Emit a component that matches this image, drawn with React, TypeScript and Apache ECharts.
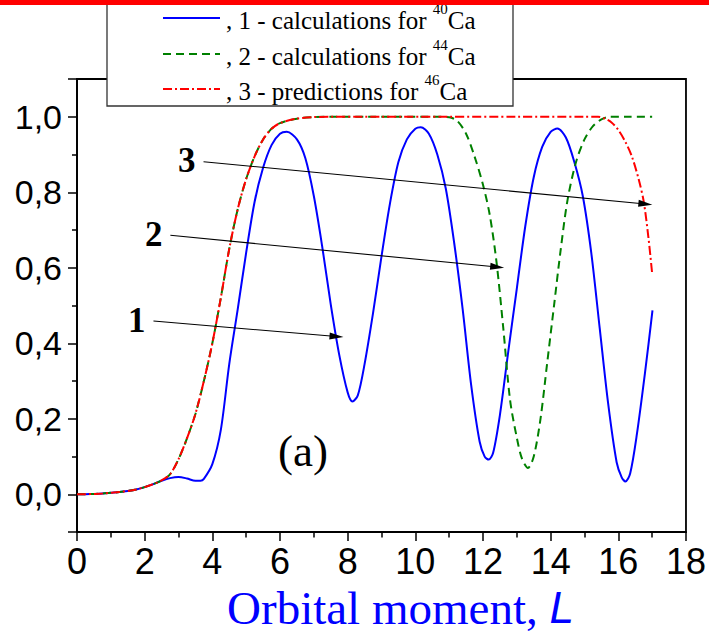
import React, { useEffect, useRef } from 'react';
import * as echarts from 'echarts';

// 1 - calculations for 40Ca (blue)
const blueL = [0, 0.25, 0.5, 0.75, 1.0, 1.25, 1.5, 1.75, 2.0, 2.25, 2.5, 2.75, 3.0, 3.25, 3.5, 3.65, 3.75, 4.0, 4.25, 4.5, 4.75, 5.0, 5.25, 5.5, 5.75, 6.0, 6.2, 6.5, 6.75, 7.0, 7.25, 7.5, 7.75, 8.0, 8.14, 8.3, 8.5, 8.75, 9.0, 9.25, 9.5, 9.75, 10.0, 10.16, 10.4, 10.65, 10.9, 11.15, 11.4, 11.65, 11.9, 12.05, 12.17, 12.3, 12.5, 12.75, 13.0, 13.25, 13.5, 13.75, 14.0, 14.2, 14.45, 14.7, 14.95, 15.2, 15.45, 15.7, 15.95, 16.1, 16.21, 16.35, 16.55, 16.8, 17.01];
const blueV = [0, 0.0003, 0.001, 0.002, 0.004, 0.006, 0.009, 0.013, 0.019, 0.027, 0.036, 0.043, 0.046, 0.042, 0.036, 0.036, 0.041, 0.08, 0.17, 0.345, 0.49, 0.64, 0.775, 0.865, 0.925, 0.955, 0.96, 0.94, 0.89, 0.79, 0.655, 0.503, 0.37, 0.27, 0.246, 0.262, 0.345, 0.48, 0.63, 0.77, 0.88, 0.94, 0.968, 0.972, 0.955, 0.9, 0.81, 0.665, 0.49, 0.29, 0.14, 0.1, 0.092, 0.11, 0.21, 0.38, 0.545, 0.71, 0.84, 0.92, 0.96, 0.969, 0.945, 0.88, 0.79, 0.64, 0.44, 0.24, 0.085, 0.045, 0.034, 0.055, 0.16, 0.33, 0.487];

// 2 - calculations for 44Ca (green)
const greenL = [0, 0.25, 0.5, 0.75, 1.0, 1.25, 1.5, 1.75, 2.0, 2.25, 2.5, 2.75, 3.0, 3.25, 3.5, 3.75, 4.0, 4.25, 4.5, 4.75, 5.0, 5.25, 5.5, 5.75, 6.0, 6.5, 7.0, 7.5, 8.5, 9.5, 10.5, 11.0, 11.25, 11.5, 11.75, 12.0, 12.2, 12.4, 12.6, 12.8, 13.0, 13.15, 13.33, 13.5, 13.7, 13.9, 14.1, 14.3, 14.5, 14.75, 15.0, 15.25, 15.5, 15.75, 16.25, 17.0];
const greenV = [0, 0.0003, 0.001, 0.002, 0.004, 0.006, 0.009, 0.013, 0.019, 0.027, 0.037, 0.053, 0.093, 0.148, 0.213, 0.3, 0.4, 0.52, 0.65, 0.755, 0.835, 0.895, 0.94, 0.968, 0.983, 0.995, 0.999, 1.0, 1.0, 1.0, 1.0, 0.999, 0.988, 0.955, 0.895, 0.82, 0.74, 0.615, 0.44, 0.25, 0.15, 0.095, 0.07, 0.1, 0.2, 0.35, 0.5, 0.65, 0.78, 0.88, 0.94, 0.975, 0.993, 1.0, 1.0, 1.0];

// 3 - predictions for 46Ca (red)
const redL = [0, 0.25, 0.5, 0.75, 1.0, 1.25, 1.5, 1.75, 2.0, 2.25, 2.5, 2.75, 3.0, 3.25, 3.5, 3.75, 4.0, 4.25, 4.5, 4.75, 5.0, 5.25, 5.5, 5.75, 6.0, 6.5, 7.0, 7.5, 9.0, 11.0, 13.0, 15.0, 15.4, 15.6, 15.8, 16.0, 16.2, 16.4, 16.6, 16.75, 16.89, 17.0];
const redV = [0, 0.0003, 0.001, 0.002, 0.004, 0.006, 0.009, 0.013, 0.019, 0.027, 0.037, 0.053, 0.093, 0.148, 0.213, 0.3, 0.4, 0.52, 0.65, 0.755, 0.835, 0.895, 0.94, 0.968, 0.983, 0.995, 0.999, 1.0, 1.0, 1.0, 1.0, 1.0, 1.0, 0.995, 0.985, 0.965, 0.935, 0.895, 0.835, 0.776, 0.68, 0.585];

const seriesNames = ['1 - calculations for 40Ca', '2 - calculations for 44Ca', '3 - predictions for 46Ca'];
const seriesColors = ['#0000ff', '#008000', '#ff0000'];
const legendTexts = [', 1 - calculations for ', ', 2 - calculations for ', ', 3 - predictions for '];
const legendIsotopes = ['40', '44', '46'];
const legendElement = 'Ca';

const yLabelValues = [0, 0.2, 0.4, 0.6, 0.8, 1.0];
const yMajorTicks = [-0.1, 0, 0.2, 0.4, 0.6, 0.8, 1.0, 1.1];
const yMinorTicks = [0.1, 0.3, 0.5, 0.7, 0.9];

const arrowLabels = ['1', '2', '3'];
const arrowStart = [[2.26, 0.459], [2.76, 0.686], [3.74, 0.881]];
const arrowEnd = [[7.67, 0.418], [12.42, 0.602], [16.8, 0.769]];

const panelLabel = '(a)';
const xTitle = 'Orbital moment, ';
const xTitleVar = 'L';

const zip = (xs: number[], ys: number[]) => xs.map((x, i) => [x, ys[i]]);

export default function App() {
  const ref = useRef<HTMLDivElement>(null);
  useEffect(() => {
    document.body.style.margin = '0';
    if (!ref.current) return;
    const chart = echarts.init(ref.current, undefined, { renderer: 'svg' });

    const axisFont = 'Liberation Sans, Arial, sans-serif';
    const serif = 'Liberation Serif, Times New Roman, serif';

    const legendGraphics: any[] = [
      { type: 'rect', shape: { x: 107, y: -5, width: 406, height: 111 }, style: { fill: '#fff', stroke: '#333', lineWidth: 1.3 }, z: 10 },
    ];
    const rowsY = [18, 54, 89];
    const dashes: any[] = [null, [8, 5], [9, 3, 2, 3]];
    rowsY.forEach((ry, i) => {
      legendGraphics.push({
        type: 'line', shape: { x1: 163, y1: ry, x2: 220, y2: ry },
        style: { stroke: seriesColors[i], lineWidth: 2, lineDash: dashes[i] || undefined }, z: 11,
      });
      legendGraphics.push({
        type: 'text', x: 226, y: ry + 2, z: 11,
        style: {
          text: `{m|${legendTexts[i]}}{s|${legendIsotopes[i]}}{m|${legendElement}}`,
          verticalAlign: 'middle', align: 'left',
          rich: {
            m: { fontFamily: serif, fontSize: 25, lineHeight: 36, fill: '#000' },
            s: { fontFamily: serif, fontSize: 15, padding: [0, 0, 22, 0], fill: '#000' },
          },
        },
      });
    });

    const markData = arrowStart.map((s, i) => [
      { coord: s, symbol: 'none', label: { formatter: arrowLabels[i] } },
      { coord: arrowEnd[i], symbol: 'triangle', symbolSize: [7, 14], label: { formatter: arrowLabels[i] } },
    ]);

    chart.setOption({
      animation: false,
      grid: { left: 77, top: 79, width: 610.5, height: 454.7, show: true, borderColor: '#000', borderWidth: 1.8, backgroundColor: 'transparent' },
      xAxis: {
        type: 'value', min: 0, max: 18, interval: 2,
        axisLine: { show: true, onZero: false, lineStyle: { color: '#000', width: 1.8 } },
        axisTick: { show: true, inside: false, length: 9, lineStyle: { color: '#000', width: 1.5 } },
        minorTick: { show: true, splitNumber: 2, length: 5.5, lineStyle: { color: '#000', width: 1.5 } },
        splitLine: { show: false },
        axisLabel: { color: '#000', fontSize: 36, fontFamily: axisFont, margin: 11 },
        name: `{a|${xTitle}}{b|${xTitleVar}}`,
        nameLocation: 'middle', nameGap: 46,
        nameTextStyle: {
          padding: [0, 0, 0, 38],
          rich: {
            a: { fontFamily: serif, fontSize: 47, color: '#0000ff' },
            b: { fontFamily: axisFont, fontStyle: 'italic', fontSize: 44, color: '#0000ff' },
          },
        },
      },
      yAxis: [
        {
          type: 'value', min: -0.1, max: 1.1, interval: 0.1,
          axisLine: { show: true, onZero: false, lineStyle: { color: '#000', width: 1.8 } },
          axisTick: { show: true, inside: false, length: 9, customValues: yMajorTicks, lineStyle: { color: '#000', width: 1.5 } },
          splitLine: { show: false },
          axisLabel: {
            color: '#000', fontSize: 34, fontFamily: axisFont, margin: 15,
            customValues: yLabelValues,
            formatter: (v: number) => v.toFixed(1).replace('.', ','),
          },
        },
        {
          type: 'value', min: -0.1, max: 1.1, interval: 0.1, position: 'left',
          axisLine: { show: false },
          axisTick: { show: true, inside: false, length: 5, customValues: yMinorTicks, lineStyle: { color: '#000', width: 1.5 } },
          splitLine: { show: false },
          axisLabel: { show: false },
        },
      ],
      series: [
        {
          name: seriesNames[0], type: 'line', data: zip(blueL, blueV), showSymbol: false, smooth: 0.3,
          lineStyle: { color: seriesColors[0], width: 2 }, itemStyle: { color: seriesColors[0] }, z: 2,
        },
        {
          name: seriesNames[1], type: 'line', data: zip(greenL, greenV), showSymbol: false, smooth: 0.3,
          lineStyle: { color: seriesColors[1], width: 2, type: [8, 5] }, itemStyle: { color: seriesColors[1] }, z: 3,
        },
        {
          name: seriesNames[2], type: 'line', data: zip(redL, redV), showSymbol: false, smooth: 0.3,
          lineStyle: { color: seriesColors[2], width: 2, type: [9, 3, 2, 3] }, itemStyle: { color: seriesColors[2] }, z: 4,
          markLine: {
            silent: true, animation: false,
            symbol: ['none', 'triangle'], symbolSize: [0, 12],
            lineStyle: { color: '#000', width: 1.1, type: 'solid' },
            label: { show: true, position: 'start', distance: 8, color: '#000', fontFamily: serif, fontWeight: 'bold', fontSize: 35 },
            emphasis: { disabled: true },
            data: markData,
          },
        },
      ],
      graphic: [
        { type: 'rect', shape: { x: 0, y: 0, width: 709, height: 5 }, style: { fill: '#ff0000' }, z: 20 },
        ...legendGraphics,
        { type: 'text', x: 303, y: 451, z: 5, style: { text: panelLabel, fontFamily: serif, fontSize: 45, fill: '#000', align: 'center', verticalAlign: 'middle' } },
      ],
    });
    return () => chart.dispose();
  }, []);
  return <div ref={ref} style={{ width: 709, height: 636 }} />;
}
